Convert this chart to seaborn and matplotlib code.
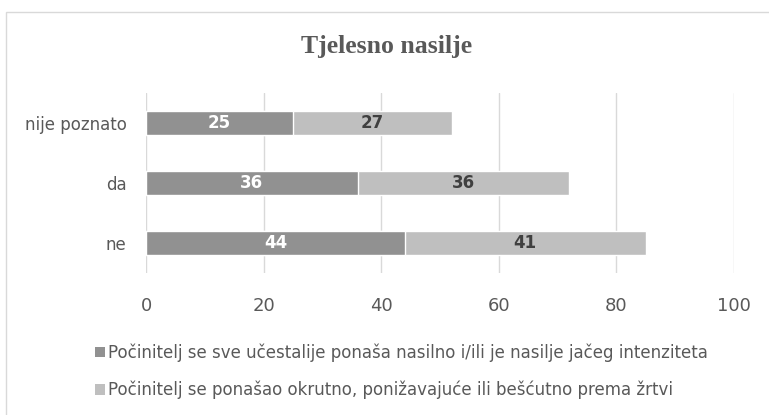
import matplotlib
matplotlib.use("Agg")
import matplotlib.pyplot as plt
import seaborn as sns
import pandas as pd
from matplotlib.patches import Patch, Rectangle

# ----- DATA -----
categories = ['nije poznato', 'da', 'ne']
first_vals = [25, 36, 44]
second_vals = [27, 36, 41]
series_names = ['Počinitelj se sve učestalije ponaša nasilno i/ili je nasilje jačeg intenziteta',
                'Počinitelj se ponašao okrutno, ponižavajuće ili bešćutno prema žrtvi']
x_ticks = [0, 20, 40, 60, 80, 100]

dark = '#919191'
light = '#bfbfbf'
text_gray = '#595959'

sns.set_theme(style='white')
plt.rcParams['font.family'] = ['DejaVu Sans']

df = pd.DataFrame({'cat': categories, 'first': first_vals, 'second': second_vals})
df['total'] = df['first'] + df['second']

fig = plt.figure(figsize=(7.69, 4.15), dpi=100)
ax = fig.add_axes([0.190, 0.342, 0.7645, 0.434])

# light bars span the full total, dark bars overlay the first part
sns.barplot(data=df, x='total', y='cat', orient='h', color=light, saturation=1,
            width=0.4, ax=ax, zorder=3)
sns.barplot(data=df, x='first', y='cat', orient='h', color=dark, saturation=1,
            width=0.4, ax=ax, zorder=4)

for i, row in df.iterrows():
    ax.text(row['first'] / 2, i, str(row['first']), ha='center', va='center',
            color='white', fontsize=12, fontweight='bold', zorder=5)
    ax.text(row['first'] + row['second'] / 2, i, str(row['second']), ha='center', va='center',
            color='#404040', fontsize=12, fontweight='bold', zorder=5)

ax.set_xlim(0, 100)
ax.set_ylim(2.5, -0.5)
ax.set_xticks(x_ticks)
ax.set_xticklabels([str(t) for t in x_ticks], fontsize=13, color=text_gray)
ax.tick_params(axis='x', length=0, pad=17)
ax.tick_params(axis='y', length=0, pad=14, labelsize=12, labelcolor=text_gray)
ax.set_xlabel('')
ax.set_ylabel('')
ax.grid(axis='x', color='#d9d9d9', linewidth=1, zorder=0)
ax.set_axisbelow(True)
for s in ax.spines.values():
    s.set_visible(False)

fig.text(0.503, 0.887, 'Tjelesno nasilje', ha='center', va='center', fontsize=18.5,
         fontweight='bold', color=text_gray, family='Liberation Serif')

handles = [Patch(facecolor=dark, edgecolor='none'), Patch(facecolor=light, edgecolor='none')]
fig.legend(handles, series_names, loc='upper left', bbox_to_anchor=(0.1235, 0.173),
           frameon=False, fontsize=12, labelcolor=text_gray, handlelength=0.6, handleheight=0.6,
           handletextpad=0.2, labelspacing=1.15, borderaxespad=0, borderpad=0)

# outer chart border
fig.patches.append(Rectangle((6 / 769, -0.1), 1.0, 1 - 12 / 415 + 0.1, transform=fig.transFigure,
                             fill=False, edgecolor='#d9d9d9', linewidth=1))

fig.savefig('out.png', dpi=100)
